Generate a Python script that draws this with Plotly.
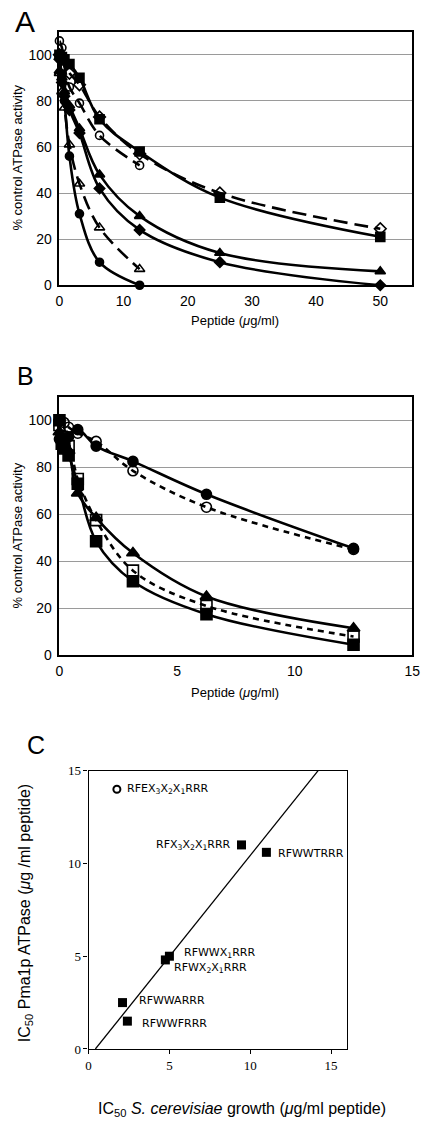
import plotly.graph_objects as go

# ---------------- Panel A data ----------------
A_x = [0, 0.39, 0.78, 1.56, 3.125, 6.25, 12.5, 25, 50]
A_x_short = [0, 0.39, 0.78, 1.56, 3.125, 6.25, 12.5]
A_square = [100, 99, 98, 96, 90, 72, 58, 38, 21]
A_open_diamond = [100, 98, 95, 92, 87, 73, 57, 40, 24.5]
A_open_circle = [106, 103, 95, 86, 79, 65, 52]
A_triangle = [93, 90, 84, 78, 68, 48, 30, 14, 6]
A_diamond = [98, 88, 82, 76, 66, 42, 24, 10, 0]
A_open_triangle = [92, 84, 77, 61, 44, 25, 7]
A_circle = [100, 90, 80, 56, 31, 10, 0]

# ---------------- Panel B data ----------------
B_x = [0, 0.1, 0.2, 0.39, 0.78, 1.56, 3.125, 6.25, 12.5]
B_x_circ = [0, 0.2, 0.39, 0.78, 1.56, 3.125, 6.25, 12.5]
B_square = [100, 90, 88, 85, 73, 48.5, 31.5, 17.5, 4.5]
B_triangle = [95, 92, 90, 87, 69, 58.5, 43.5, 25, 11.5]
B_open_square = [98, 93, 90, 89, 75, 57.5, 36, 21, 8]
B_circle = [92, 91, 93, 96, 89, 82.5, 68.5, 45.5]
B_open_circle = [100, 99, 97, 94.5, 91, 78.5, 63, 45]

# ---------------- Panel C data ----------------
C_open_name = ["RFEX<sub>3</sub>X<sub>2</sub>X<sub>1</sub>RRR"]
C_open_x = [1.75]
C_open_y = [14.0]
C_names = ["RFX<sub>3</sub>X<sub>2</sub>X<sub>1</sub>RRR", "RFWWTRRR",
           "RFWWX<sub>1</sub>RRR", "RFWX<sub>2</sub>X<sub>1</sub>RRR",
           "RFWWARRR", "RFWWFRRR"]
C_x = [9.46, 11.0, 5.0, 4.75, 2.1, 2.4]
C_y = [11.0, 10.6, 5.0, 4.8, 2.5, 1.5]
fit_x = [0.42, 14.2]
fit_y = [0, 15]

A_xticks = [0, 10, 20, 30, 40, 50]
B_xticks = [0, 5, 10, 15]
AB_yticks = [0, 20, 40, 60, 80, 100]
C_ticks = [0, 5, 10, 15]

W, H = 433, 1129
def px(x): return x / W
def py(y): return 1 - y / H

fig = go.Figure()
LW = 2.6
LONGDASH = "14px,7px"
SHORTDASH = "6px,5px"

def add(x, y, sym, dash, size, ax):
    fig.add_trace(go.Scatter(
        x=x, y=y, mode="lines+markers", xaxis="x" + ax, yaxis="y" + ax,
        line=dict(color="black", width=LW, dash=dash, shape="spline", smoothing=1),
        marker=dict(symbol=sym, size=size, color="black",
                    line=dict(color="black", width=1.6)),
        cliponaxis=False, showlegend=False, hoverinfo="skip"))

# Panel A
add(A_x, A_square, "square", "solid", 9, "")
add(A_x, A_open_diamond, "diamond-open", LONGDASH, 9, "")
add(A_x_short, A_open_circle, "circle-open", LONGDASH, 8, "")
add(A_x, A_triangle, "triangle-up", "solid", 9, "")
add(A_x, A_diamond, "diamond", "solid", 8, "")
add(A_x_short, A_open_triangle, "triangle-up-open", LONGDASH, 9, "")
add(A_x_short, A_circle, "circle", "solid", 8, "")

# Panel B
add(B_x, B_square, "square", "solid", 11, "2")
add(B_x, B_open_square, "square-open", SHORTDASH, 11, "2")
add(B_x, B_triangle, "triangle-up", "solid", 11, "2")
add(B_x_circ, B_open_circle, "circle-open", SHORTDASH, 10, "2")
add(B_x_circ, B_circle, "circle", "solid", 10, "2")

# Panel C
fig.add_trace(go.Scatter(x=fit_x, y=fit_y, mode="lines", xaxis="x3", yaxis="y3",
                         line=dict(color="black", width=1.3), showlegend=False,
                         hoverinfo="skip"))
fig.add_trace(go.Scatter(x=C_x, y=C_y, mode="markers", xaxis="x3", yaxis="y3",
                         marker=dict(symbol="square", size=9, color="black"),
                         showlegend=False, hoverinfo="skip", cliponaxis=False))
fig.add_trace(go.Scatter(x=C_open_x, y=C_open_y, mode="markers", xaxis="x3", yaxis="y3",
                         marker=dict(symbol="circle-open", size=7, color="black",
                                     line=dict(width=2)),
                         showlegend=False, hoverinfo="skip", cliponaxis=False))

tickfont = dict(family="Liberation Sans, Arial", size=14, color="black")
serif = dict(family="Liberation Serif, Times New Roman", size=13, color="black")

def ab_axes(xdom, ydom, xrange, xticks):
    xa = dict(domain=xdom, range=xrange, tickmode="array", tickvals=xticks,
              ticktext=[str(v) for v in xticks], showgrid=False,
              zeroline=False, showline=True, linecolor="black", linewidth=1.5,
              mirror=True, ticks="outside", ticklen=2, tickcolor="rgba(0,0,0,0)",
              tickfont=tickfont)
    ya = dict(domain=ydom, range=[0, 110], tickmode="array", tickvals=AB_yticks,
              ticktext=[str(v) for v in AB_yticks],
              showgrid=True, gridcolor="#9a9a9a", gridwidth=1, zeroline=False,
              showline=True, linecolor="black", linewidth=1.5, mirror=True,
              ticks="outside", ticklen=3, tickcolor="rgba(0,0,0,0)", tickfont=tickfont)
    return xa, ya

xa, ya = ab_axes([px(57), px(420)], [py(282), py(25)], [0, 55], A_xticks)
xb, yb = ab_axes([px(57), px(420)], [py(657), py(395)], [0, 15], B_xticks)
xa["anchor"] = "y"; ya["anchor"] = "x"
xb["anchor"] = "y2"; yb["anchor"] = "x2"

xc = dict(domain=[px(87), px(353)], range=[0, 16], tickvals=C_ticks,
          showgrid=False, zeroline=False, showline=True, linecolor="black",
          linewidth=1.2, mirror=True, ticks="outside", ticklen=4, tickwidth=1,
          tickcolor="black", tickfont=serif, anchor="y3")
yc = dict(domain=[py(1056), py(774)], range=[0, 15], tickvals=C_ticks,
          showgrid=False, zeroline=False, showline=True, linecolor="black",
          linewidth=1.2, mirror=True, ticks="outside", ticklen=4, tickwidth=1,
          tickcolor="black", tickfont=serif, anchor="x3")

ann = []
def text(x, y, s, size, angle=0, family="Liberation Sans, Arial", xanchor="center"):
    ann.append(dict(x=px(x), y=py(y), xref="paper", yref="paper", text=s,
                    showarrow=False, textangle=angle, xanchor=xanchor, yanchor="middle",
                    font=dict(family=family, size=size, color="black")))

text(22, 15, "A", 30)
text(22, 374, "B", 25)
text(33, 748, "C", 25)
text(14, 153, "% control ATPase activity", 13, -90)
text(238, 318, "Peptide (<i>μ</i>g/ml)", 13)
text(14, 536, "% control ATPase activity", 13, -90)
text(238, 695, "Peptide (<i>μ</i>g/ml)", 13)
text(22, 918, "IC<sub>50</sub> Pma1p ATPase (<i>μ</i>g /ml peptide)", 16, -90)
text(245, 1117, "IC<sub>50</sub> <i>S. cerevisiae</i> growth (<i>μ</i>g/ml peptide)", 16)

# Panel C labels
lab_font = dict(family="DejaVu Sans, Verdana", size=11, color="black")
offsets = [(-8, 0, "right"), (10, -1, "left"), (13, 3, "left"),
           (7, -8, "left"), (14, 2, "left"), (13, -2, "left")]
for name, x, y, (dx, dy, xa_) in zip(C_names, C_x, C_y, offsets):
    ann.append(dict(x=x, y=y, xref="x3", yref="y3", text=name, showarrow=False,
                    xanchor=xa_, yanchor="middle", xshift=dx, yshift=dy, font=lab_font))
for name, x, y in zip(C_open_name, C_open_x, C_open_y):
    ann.append(dict(x=x, y=y, xref="x3", yref="y3", text=name, showarrow=False,
                    xanchor="left", yanchor="middle", xshift=8, font=lab_font))

fig.update_layout(
    width=W, height=H, margin=dict(l=0, r=0, t=0, b=0),
    paper_bgcolor="white", plot_bgcolor="white",
    font=dict(family="Liberation Sans, Arial", size=14, color="black"),
    xaxis=xa, yaxis=ya, xaxis2=xb, yaxis2=yb, xaxis3=xc, yaxis3=yc,
    annotations=ann, showlegend=False,
)
fig.write_html("out.html", config={"displayModeBar": False},
               post_script="document.body.style.margin='0';document.body.style.overflow='hidden';")
